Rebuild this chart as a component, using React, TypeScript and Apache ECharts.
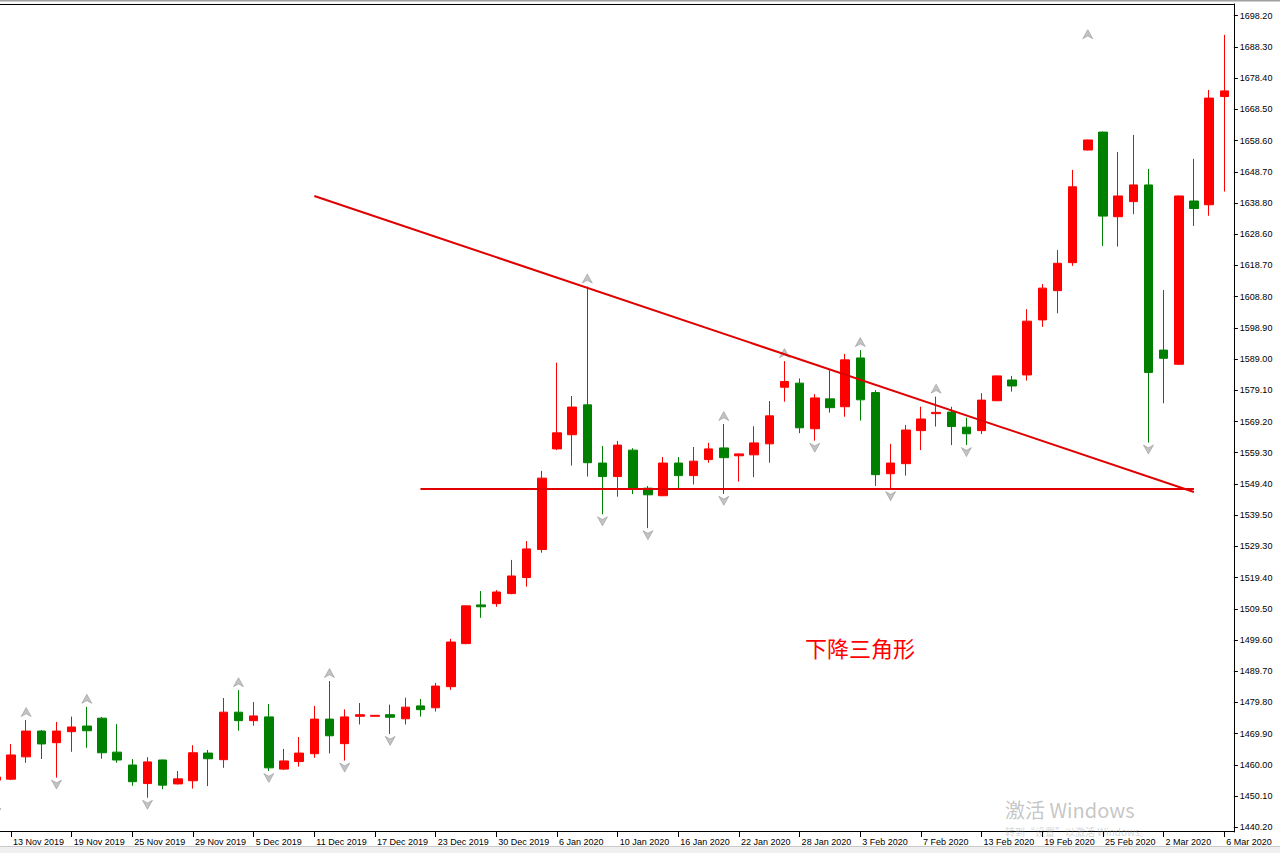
import React, { useEffect, useRef } from "react";
import * as echarts from "echarts";

// ---- data (XAUUSD daily) ----
const dates = [
  "12 Nov 2019", "13 Nov 2019", "14 Nov 2019", "15 Nov 2019", "18 Nov 2019", "19 Nov 2019", "20 Nov 2019", "21 Nov 2019", "22 Nov 2019",
  "25 Nov 2019", "26 Nov 2019", "27 Nov 2019", "28 Nov 2019", "29 Nov 2019",
  "2 Dec 2019", "3 Dec 2019", "4 Dec 2019", "5 Dec 2019", "6 Dec 2019", "9 Dec 2019", "10 Dec 2019", "11 Dec 2019", "12 Dec 2019", "13 Dec 2019",
  "16 Dec 2019", "17 Dec 2019", "18 Dec 2019", "19 Dec 2019", "20 Dec 2019", "23 Dec 2019", "24 Dec 2019", "26 Dec 2019", "27 Dec 2019",
  "30 Dec 2019", "31 Dec 2019", "2 Jan 2020", "3 Jan 2020", "6 Jan 2020", "7 Jan 2020", "8 Jan 2020", "9 Jan 2020", "10 Jan 2020",
  "13 Jan 2020", "14 Jan 2020", "15 Jan 2020", "16 Jan 2020", "17 Jan 2020", "20 Jan 2020", "21 Jan 2020", "22 Jan 2020", "23 Jan 2020",
  "24 Jan 2020", "27 Jan 2020", "28 Jan 2020", "29 Jan 2020", "30 Jan 2020", "31 Jan 2020", "3 Feb 2020", "4 Feb 2020", "5 Feb 2020",
  "6 Feb 2020", "7 Feb 2020", "10 Feb 2020", "11 Feb 2020", "12 Feb 2020", "13 Feb 2020", "14 Feb 2020", "17 Feb 2020", "18 Feb 2020",
  "19 Feb 2020", "20 Feb 2020", "21 Feb 2020", "24 Feb 2020", "25 Feb 2020", "26 Feb 2020", "27 Feb 2020", "28 Feb 2020",
  "2 Mar 2020", "3 Mar 2020", "4 Mar 2020", "5 Mar 2020", "6 Mar 2020",
];

const opens = [
  1455.2, 1455.5, 1462.6, 1470.8, 1467.1, 1470.6, 1472.4, 1474.9, 1464.1, 1460.0,
  1454.1, 1461.6, 1454.0, 1455.0, 1463.8, 1461.7, 1476.8, 1474.1, 1475.3, 1458.7,
  1461.1, 1463.6, 1474.6, 1466.8, 1475.5, 1475.5, 1476.0, 1474.7, 1478.8, 1478.2,
  1484.9, 1498.6, 1510.9, 1511.3, 1514.5, 1519.6, 1528.5, 1560.5, 1565.0, 1574.5,
  1556.0, 1551.7, 1560.1, 1548.0, 1545.6, 1556.0, 1552.0, 1557.1, 1560.8, 1558.3,
  1558.6, 1562.1, 1580.1, 1581.4, 1566.9, 1576.4, 1573.9, 1589.4, 1578.4, 1552.6,
  1555.8, 1566.3, 1571.7, 1572.2, 1567.4, 1566.3, 1575.8, 1582.4, 1584.0, 1601.5,
  1610.8, 1619.7, 1655.5, 1661.2, 1634.3, 1639.1, 1644.4, 1591.9, 1587.4, 1639.3,
  1638.1, 1672.5,
];
const closes = [
  1456.2, 1463.2, 1470.8, 1466.7, 1470.8, 1472.1, 1470.9, 1463.9, 1461.6, 1454.7,
  1461.0, 1453.6, 1455.6, 1463.9, 1462.0, 1476.8, 1474.1, 1475.6, 1459.1, 1461.3,
  1463.8, 1474.6, 1469.3, 1475.3, 1476.0, 1475.8, 1475.2, 1478.4, 1477.6, 1485.1,
  1499.1, 1510.6, 1510.3, 1515.0, 1520.1, 1528.7, 1551.2, 1565.6, 1573.8, 1556.1,
  1551.7, 1561.7, 1547.7, 1545.9, 1556.0, 1552.0, 1556.6, 1560.5, 1557.7, 1558.9,
  1562.4, 1571.0, 1581.9, 1567.2, 1576.7, 1573.6, 1588.8, 1576.1, 1552.3, 1556.0,
  1566.5, 1570.0, 1572.1, 1567.6, 1565.3, 1576.0, 1583.7, 1580.5, 1601.1, 1611.6,
  1619.5, 1643.8, 1658.7, 1634.5, 1640.9, 1644.4, 1584.8, 1589.3, 1640.9, 1636.9,
  1672.0, 1674.3,
];
const lows = [
  1447.0, 1455.2, 1460.7, 1461.9, 1456.0, 1464.2, 1465.5, 1462.0, 1460.7, 1453.4,
  1449.6, 1452.3, 1453.8, 1452.5, 1453.3, 1459.1, 1470.9, 1472.5, 1458.1, 1458.4,
  1459.5, 1462.3, 1463.7, 1461.4, 1472.9, 1475.4, 1469.9, 1472.9, 1475.4, 1477.0,
  1483.9, 1498.4, 1506.8, 1510.3, 1514.3, 1516.7, 1527.5, 1560.1, 1555.2, 1551.7,
  1539.7, 1545.3, 1546.1, 1535.3, 1545.5, 1548.0, 1549.2, 1556.1, 1546.2, 1550.1,
  1551.5, 1556.1, 1575.5, 1565.5, 1563.1, 1572.0, 1570.7, 1569.5, 1548.7, 1547.7,
  1552.0, 1560.1, 1567.6, 1561.7, 1561.7, 1565.2, 1575.7, 1578.7, 1582.2, 1599.3,
  1603.6, 1618.7, 1655.4, 1625.0, 1624.8, 1635.1, 1562.5, 1575.0, 1587.2, 1631.4,
  1634.6, 1642.3,
];
const highs = [
  1457.0, 1466.7, 1474.3, 1471.1, 1473.7, 1475.4, 1478.5, 1475.3, 1473.0, 1461.9,
  1462.5, 1461.7, 1458.1, 1466.3, 1464.8, 1481.3, 1483.8, 1480.0, 1479.4, 1465.1,
  1468.9, 1478.8, 1486.7, 1477.7, 1479.7, 1475.9, 1479.2, 1481.4, 1481.0, 1486.1,
  1500.1, 1510.7, 1515.3, 1515.6, 1525.2, 1531.2, 1553.5, 1587.9, 1577.3, 1612.1,
  1561.4, 1563.0, 1560.7, 1548.7, 1557.9, 1557.9, 1561.1, 1562.4, 1568.4, 1559.0,
  1567.7, 1575.7, 1588.4, 1582.9, 1577.9, 1585.5, 1590.7, 1591.9, 1579.2, 1562.1,
  1568.1, 1573.9, 1577.1, 1573.9, 1570.4, 1578.2, 1583.8, 1583.7, 1604.9, 1612.9,
  1623.7, 1649.2, 1658.8, 1661.4, 1654.9, 1660.3, 1649.5, 1611.0, 1641.0, 1652.7,
  1674.6, 1692.1,
];

// Bill Williams fractals: [bar index, price]
const fractalUp = [
  [2, 1474.3], [6, 1478.5], [16, 1483.8], [22, 1486.7], [39, 1612.1],
  [48, 1568.4], [52, 1588.4], [57, 1591.9], [62, 1577.1], [72, 1689.8],
];
const fractalDown = [
  [0, 1447.0], [4, 1456.0], [10, 1449.6], [18, 1458.1], [23, 1461.4], [26, 1469.9],
  [40, 1539.7], [43, 1535.3], [48, 1546.2], [54, 1563.1], [59, 1547.7], [64, 1561.7], [76, 1562.5],
];

// drawn trend lines: [start index, start price, end index, end price]
const resistanceLine = [21, 1640.9, 79, 1546.8];
const supportLine = [28, 1547.8, 79, 1547.8];

const yLabels = [
  "1440.20", "1450.10", "1460.00", "1469.90", "1479.80", "1489.70", "1499.60", "1509.50", "1519.40",
  "1529.30", "1539.50", "1549.40", "1559.30", "1569.20", "1579.10", "1589.00", "1598.90", "1608.80",
  "1618.70", "1628.60", "1638.80", "1648.70", "1658.60", "1668.50", "1678.40", "1688.30", "1698.20",
];
const yMin = 1438.71;
const yMax = 1701.92;

const annotationText = "下降三角形";

// the chart canvas starts a little left of the page so that the first bar is cut, as in the reference
const SHIFT = 12;

export default function App() {
  const ref = useRef<HTMLDivElement>(null);

  useEffect(() => {
    if (!ref.current) return;
    const chart = echarts.init(ref.current, undefined, { renderer: "svg" });

    const lo = parseFloat(yLabels[0]);
    const hi = parseFloat(yLabels[yLabels.length - 1]);
    const step = (hi - lo) / (yLabels.length - 1);
    const tickPos = yLabels.map((_, i) => lo + i * step);

    const candleData = opens.map((o, i) => [o, closes[i], lows[i], highs[i]]);
    const labelEvery = (i: number) => i % 4 === 1;

    const upPath = "path://M5,0 L10,10 L5,7 L0,10 Z";
    const downPath = "path://M0,0 L5,3 L10,0 L5,10 Z";
    const font = "'Liberation Sans', Arial, sans-serif";
    const X = (x: number) => x + SHIFT;

    chart.setOption({
      animation: false,
      backgroundColor: "#ffffff",
      grid: { left: 0.25, top: 4, width: 1243.6, height: 828, containLabel: false },
      xAxis: {
        type: "category",
        data: dates,
        boundaryGap: true,
        axisLine: { show: false },
        axisTick: {
          show: true,
          alignWithLabel: true,
          interval: (i: number) => labelEvery(i),
          length: 5,
          lineStyle: { color: "#000" },
        },
        axisLabel: {
          interval: (i: number) => labelEvery(i),
          align: "left",
          margin: 5,
          padding: [0, 0, 0, 2],
          color: "#000",
          fontSize: 9,
          fontFamily: font,
        },
        splitLine: { show: false },
      },
      yAxis: {
        type: "value",
        position: "right",
        offset: 2,
        min: yMin,
        max: yMax,
        scale: true,
        axisLine: { show: true, lineStyle: { color: "#000", width: 1 } },
        axisTick: { show: true, length: 4, customValues: tickPos, lineStyle: { color: "#000" } },
        axisLabel: {
          customValues: tickPos,
          margin: 6,
          color: "#000",
          fontSize: 9,
          fontFamily: font,
          formatter: (v: number) => {
            const i = Math.round((v - lo) / step);
            return yLabels[i] ?? "";
          },
        },
        splitLine: { show: false },
      },
      series: [
        {
          type: "candlestick",
          data: candleData,
          barWidth: 9,
          itemStyle: {
            color: "#ff0000",
            color0: "#008000",
            borderColor: "#ff0000",
            borderColor0: "#008000",
            borderWidth: 1,
          },
          markLine: {
            silent: true,
            symbol: ["none", "none"],
            label: { show: false },
            lineStyle: { color: "#e00000", width: 2, type: "solid" },
            data: [
              [
                { coord: [dates[resistanceLine[0]], resistanceLine[1]] },
                { coord: [dates[resistanceLine[2]], resistanceLine[3]] },
              ],
              [
                { coord: [dates[supportLine[0]], supportLine[1]] },
                { coord: [dates[supportLine[2]], supportLine[3]] },
              ],
            ],
          },
        },
        {
          type: "scatter",
          data: fractalUp.map(([i, p]) => [dates[i], p]),
          symbol: upPath,
          symbolSize: [10, 9],
          symbolOffset: [0, -8],
          itemStyle: { color: "#b4b4b4", borderColor: "#858585", borderWidth: 0.6 },
          z: 3,
        },
        {
          type: "scatter",
          data: fractalDown.map(([i, p]) => [dates[i], p]),
          symbol: downPath,
          symbolSize: [10, 9],
          symbolOffset: [0, 7],
          itemStyle: { color: "#b4b4b4", borderColor: "#858585", borderWidth: 0.6 },
          z: 3,
        },
      ],
      graphic: [
        { type: "rect", shape: { x: 0, y: 0, width: 1300, height: 1.5 }, style: { fill: "#a0a0a0" }, silent: true },
        { type: "line", shape: { x1: X(0), y1: 4.5, x2: X(1234.5), y2: 4.5 }, style: { stroke: "#000", lineWidth: 1 }, silent: true },
        { type: "line", shape: { x1: X(0), y1: 831.5, x2: X(1234.5), y2: 831.5 }, style: { stroke: "#000", lineWidth: 1 }, silent: true },
        { type: "rect", shape: { x: 0, y: 847, width: 1300, height: 6 }, style: { fill: "#f0f0f0" }, silent: true },
        { type: "line", shape: { x1: 0, y1: 846.5, x2: 1300, y2: 846.5 }, style: { stroke: "#c8c8c8", lineWidth: 1 }, silent: true },
        {
          type: "text",
          x: X(805),
          y: 647,
          style: {
            text: annotationText,
            fill: "#ff0000",
            fontSize: 22,
            fontFamily: "'Noto Sans CJK SC', sans-serif",
            verticalAlign: "middle",
          },
          silent: true,
        },
        {
          type: "text",
          x: X(1005),
          y: 809,
          style: {
            text: "激活 Windows",
            fill: "rgba(160,160,160,0.6)",
            fontSize: 20,
            fontFamily: "'Noto Sans CJK SC', sans-serif",
            verticalAlign: "middle",
          },
          silent: true,
        },
        {
          type: "text",
          x: X(1005),
          y: 831,
          style: {
            text: "转到“设置”以激活 Windows。",
            fill: "rgba(160,160,160,0.45)",
            fontSize: 10,
            fontFamily: "'Noto Sans CJK SC', sans-serif",
            verticalAlign: "middle",
          },
          silent: true,
        },
      ],
    });

    return () => chart.dispose();
  }, []);

  return (
    <div
      ref={ref}
      style={{ position: "fixed", left: -SHIFT, top: 0, width: 1280 + SHIFT, height: 853, background: "#fff" }}
    />
  );
}
